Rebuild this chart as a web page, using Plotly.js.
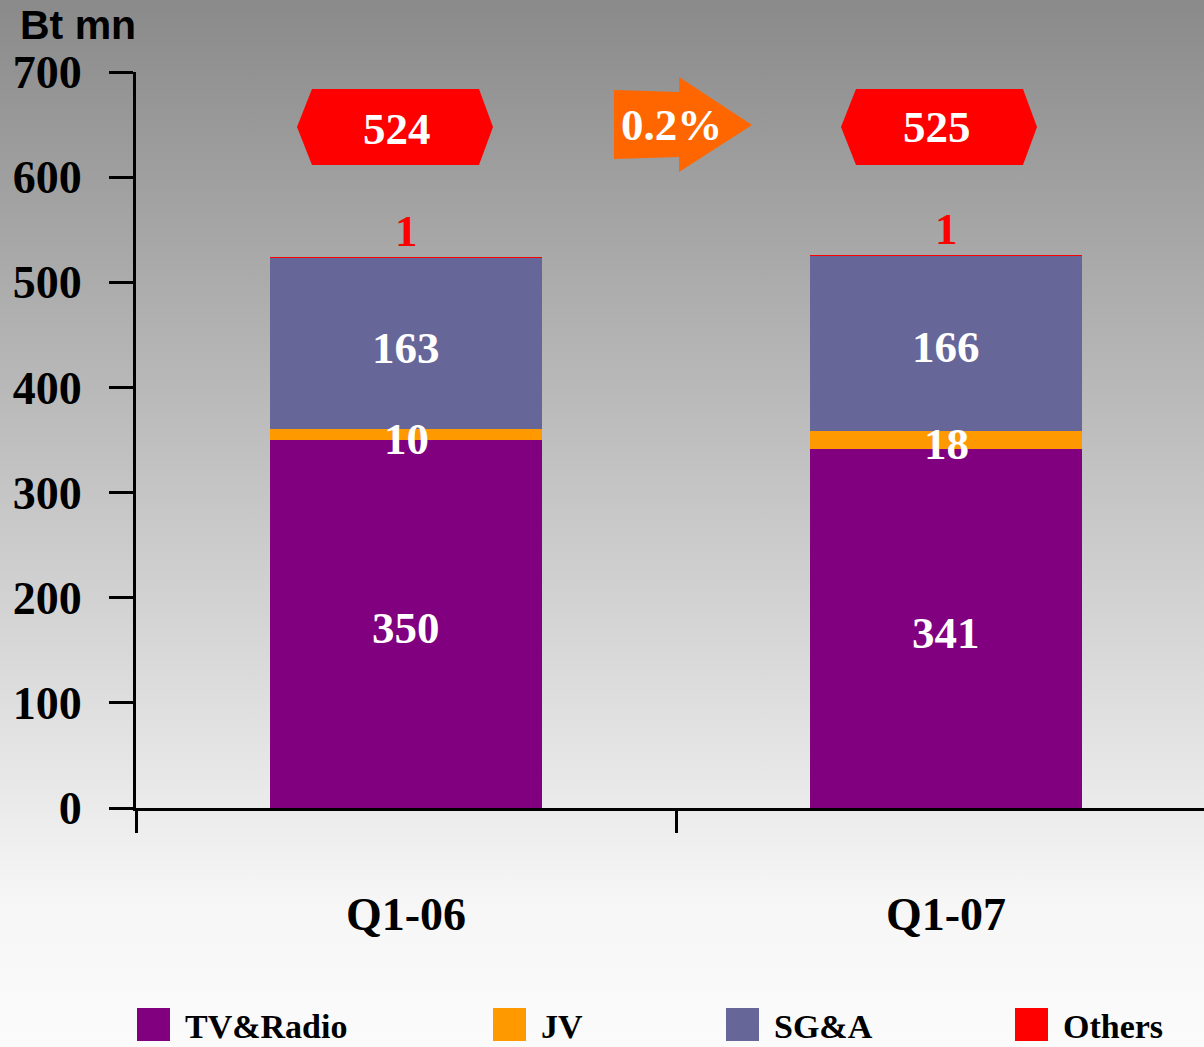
<!DOCTYPE html>
<html>
<head>
<meta charset="utf-8">
<script src="https://cdn.plot.ly/plotly-3.0.1.min.js"></script>
<style>
html,body{margin:0;padding:0;overflow:hidden;}
body{width:1204px;height:1047px;background:linear-gradient(to bottom,#8a8a8a 0%,#f6f6f6 86%,#fbfbfb 100%);}
#chart{width:1204px;height:1047px;}
</style>
</head>
<body>
<div id="chart"></div>
<script>
// ---- data ----
const categories = ["Q1-06", "Q1-07"];
const seriesNames = ["TV&Radio", "JV", "SG&A", "Others"];
const tvRadio = [350, 341];
const jv = [10, 18];
const sga = [163, 166];
const others = [1, 1];
const reportedTotals = [524, 525];
const unitLabel = "Bt mn";

// ---- styles ----
const seriesColors = ["#800080", "#FF9900", "#666699", "#FF0000"];
const serif = "Liberation Serif, Times New Roman, serif";
const W = 1204, H = 1047;
const M = {l: 136, r: 0, t: 72, b: 239};
const PW = W - M.l - M.r, PH = H - M.t - M.b;
const px = x => (x - M.l) / PW;
const py = y => (H - M.b - y) / PH;
const pathOf = pts => "M" + pts.map(p => px(p[0]).toFixed(5) + "," + py(p[1]).toFixed(5)).join(" L") + " Z";

const seriesValues = [tvRadio, jv, sga, others];
const stackTops = categories.map((c, i) => seriesValues.reduce((s, v) => s + v[i], 0));
const pct = ((reportedTotals[1] - reportedTotals[0]) / reportedTotals[0] * 100).toFixed(1) + "%";

const traces = seriesValues.map((vals, k) => ({
  type: "bar",
  name: seriesNames[k],
  x: categories,
  y: vals,
  width: 0.504,
  marker: {color: seriesColors[k], line: {width: 0}},
  hoverinfo: "skip"
}));

const annotations = [];
const labelShift = [-4, -4, -4];
categories.forEach((c, i) => {
  let base = 0;
  for (let k = 0; k < 3; k++) {
    const v = seriesValues[k][i];
    annotations.push({
      x: c, y: base + v / 2, xref: "x", yref: "y", text: String(v), showarrow: false,
      font: {family: serif, size: 45, color: "#ffffff", weight: 700},
      xanchor: "center", yanchor: "middle", yshift: labelShift[k]
    });
    base += v;
  }
  annotations.push({
    x: c, y: stackTops[i], xref: "x", yref: "y", text: String(others[i]), showarrow: false,
    font: {family: serif, size: 45, color: "#FF0000", weight: 700},
    xanchor: "center", yanchor: "middle", yshift: 26
  });
});
const hexCenters = [[397, 129], [937, 127]];
reportedTotals.forEach((t, i) => {
  annotations.push({
    x: px(hexCenters[i][0]), y: py(hexCenters[i][1]), xref: "paper", yref: "paper",
    text: String(t), showarrow: false,
    font: {family: serif, size: 45, color: "#ffffff", weight: 700},
    xanchor: "center", yanchor: "middle"
  });
});
annotations.push({
  x: px(671), y: py(125), xref: "paper", yref: "paper", text: pct, showarrow: false,
  font: {family: serif, size: 45, color: "#ffffff", weight: 700},
  xanchor: "center", yanchor: "middle"
});
annotations.push({
  x: px(18), y: py(25), xref: "paper", yref: "paper", text: unitLabel, showarrow: false,
  font: {family: "Liberation Sans, Arial, sans-serif", size: 41, color: "#000000", weight: 700},
  xanchor: "left", yanchor: "middle"
});

const shapes = [];
[0, 544].forEach(dx => {
  shapes.push({
    type: "path", xref: "paper", yref: "paper",
    path: pathOf([[297+dx,127],[312+dx,89],[479+dx,89],[493+dx,127],[479+dx,165],[312+dx,165]]),
    fillcolor: "#FF0000", line: {width: 0}
  });
});
shapes.push({
  type: "path", xref: "paper", yref: "paper",
  path: pathOf([[614,90],[679,92],[679,77],[752,125],[679,172],[679,157],[614,159]]),
  fillcolor: "#FF6600", line: {width: 0}
});
const legendX = [137, 493, 726, 1015];
seriesNames.forEach((n, k) => {
  shapes.push({
    type: "rect", xref: "paper", yref: "paper",
    x0: px(legendX[k]), x1: px(legendX[k] + 33), y0: py(1041), y1: py(1008),
    fillcolor: seriesColors[k], line: {width: 0}
  });
  annotations.push({
    x: px(legendX[k] + 47), y: py(1046), xref: "paper", yref: "paper", text: n, showarrow: false,
    font: {family: serif, size: 34, color: "#000000", weight: 700},
    xanchor: "left", yanchor: "bottom", borderpad: 0
  });
});

const layout = {
  width: W, height: H,
  margin: M,
  paper_bgcolor: "rgba(0,0,0,0)",
  plot_bgcolor: "rgba(0,0,0,0)",
  barmode: "stack",
  showlegend: false,
  hovermode: false,
  xaxis: {
    type: "category",
    range: [-0.5, 1.5 - 12 / 540],
    showline: true, linecolor: "#000000", linewidth: 3,
    ticks: "outside", tickson: "boundaries", ticklen: 22, tickwidth: 3, tickcolor: "#000000",
    showgrid: false, zeroline: false,
    tickfont: {family: serif, size: 46, color: "#000000", weight: 700},
    ticklabelstandoff: 64,
    fixedrange: true
  },
  yaxis: {
    range: [0, 700], dtick: 100,
    showline: true, linecolor: "#000000", linewidth: 3,
    ticks: "outside", ticklen: 24, tickwidth: 3, tickcolor: "#000000",
    showgrid: false, zeroline: false,
    tickfont: {family: serif, size: 46, color: "#000000", weight: 700},
    ticklabelstandoff: 18,
    fixedrange: true
  },
  annotations: annotations,
  shapes: shapes
};

Plotly.newPlot("chart", traces, layout, {staticPlot: true, displayModeBar: false});
</script>
</body>
</html>
